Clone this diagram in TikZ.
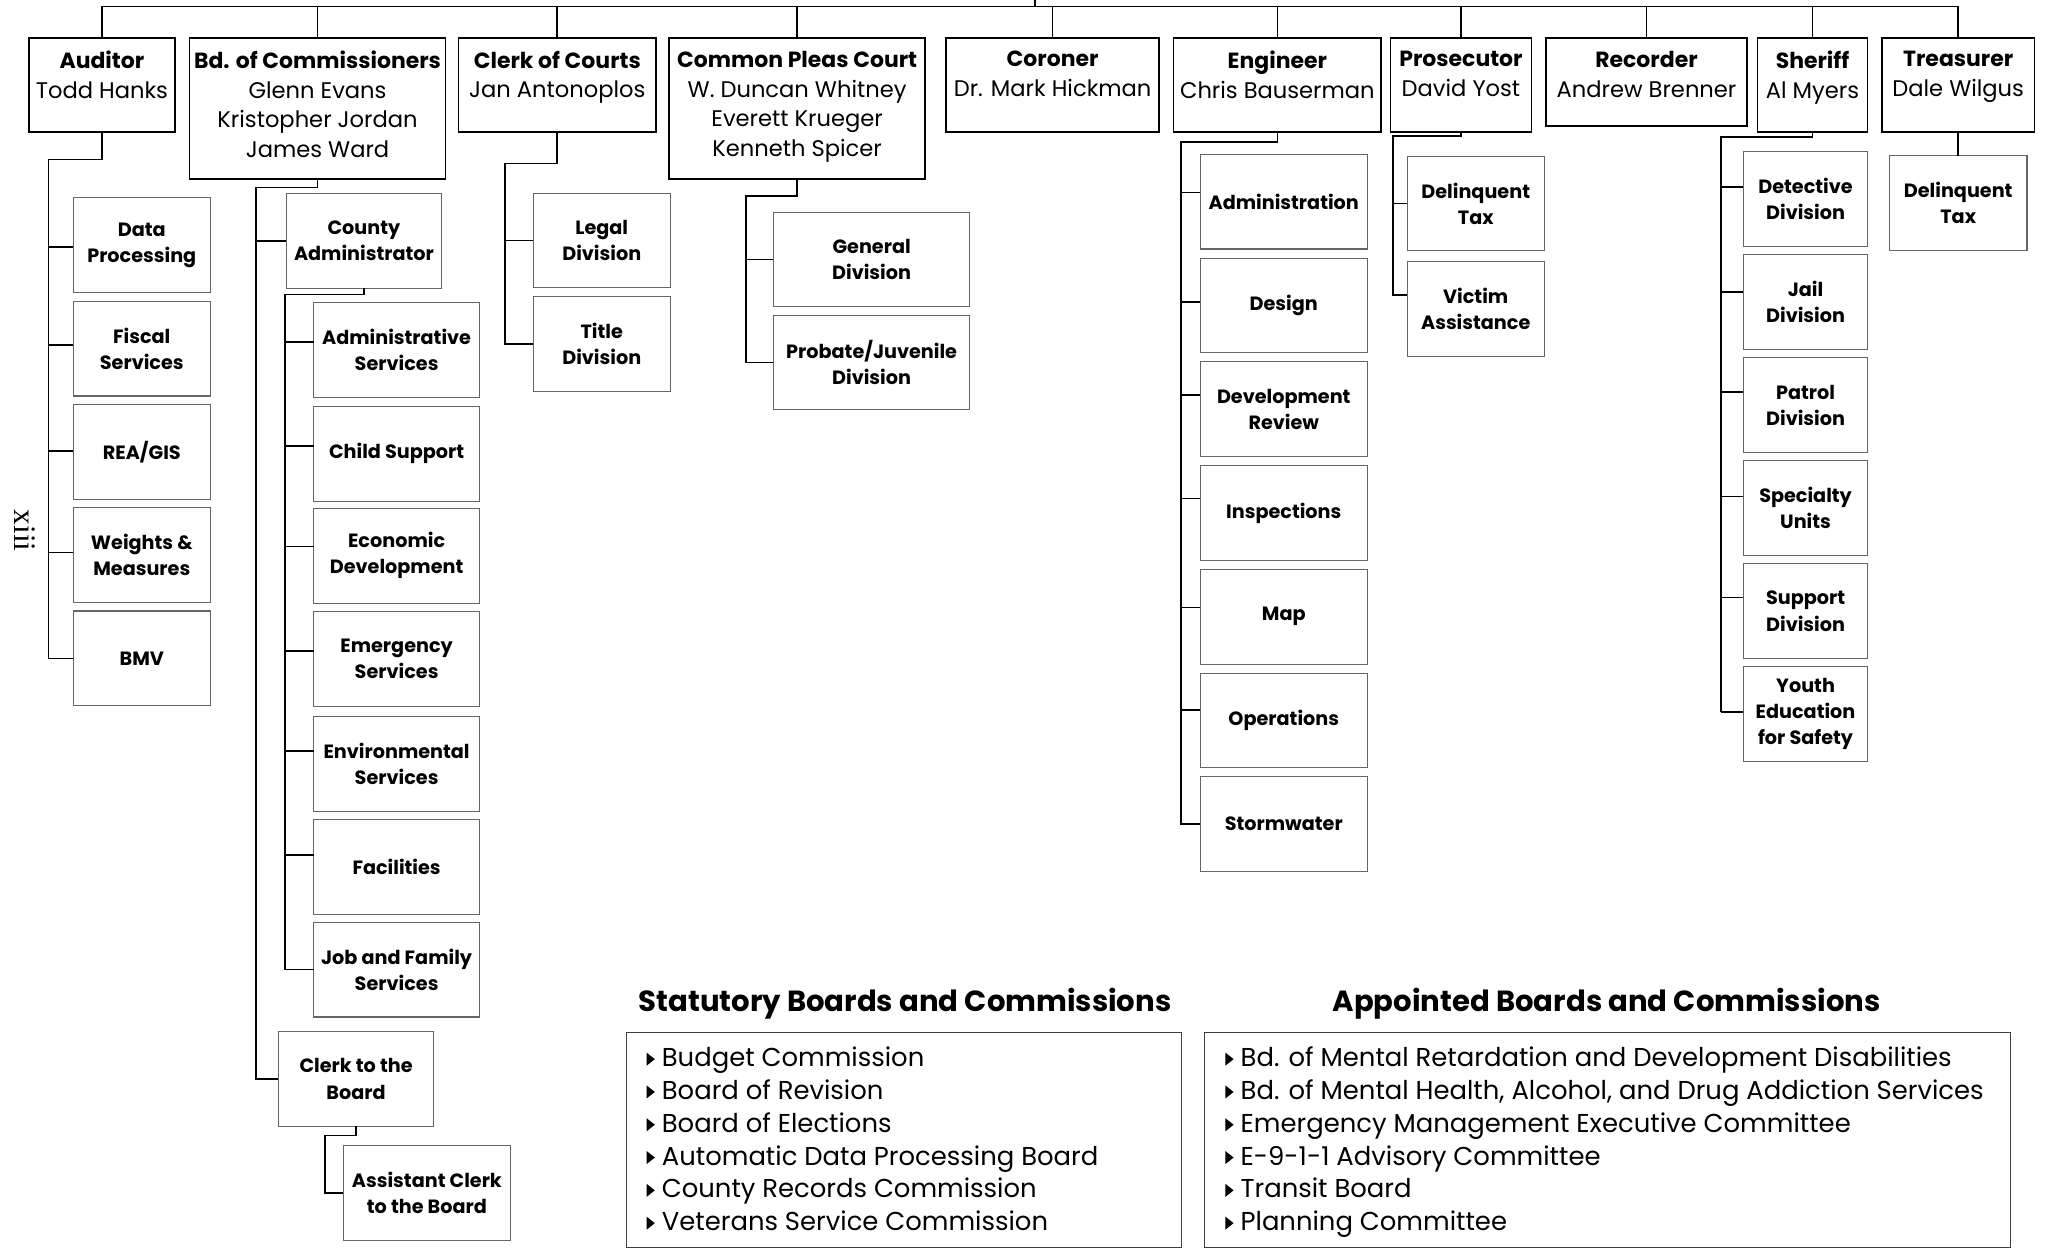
\documentclass[tikz,border=0pt]{standalone}
\usepackage{fontspec}
\setmainfont{Poppins}
\newfontfamily\serf{Liberation Serif}
\usetikzlibrary{calc}
\newcommand\ttlb[1]{{\bfseries\fontsize{16.8}{22.6}\selectfont #1}}
\tikzset{
  topbox/.style={draw=black, line width=1.2pt, inner sep=0pt, outer sep=0pt},
  subbox/.style={draw=black!60, line width=0.8pt, inner sep=0pt, outer sep=0pt,
     minimum height=72.5pt, align=center,
     font=\bfseries\fontsize{14.7}{20}\selectfont},
  conn/.style={line width=1.3pt, black},
  ttl/.style={anchor=north, inner sep=0pt, align=center, font=\fontsize{17.3}{22.6}\selectfont},
  listbox/.style={draw=black!75, line width=0.9pt, inner sep=0pt, outer sep=0pt},
  listitem/.style={anchor=base west, inner sep=0pt, font=\fontsize{19.8}{25}\selectfont},
  sechead/.style={anchor=base, inner sep=0pt, font=\bfseries\fontsize{22.3}{26}\selectfont},
}
\begin{document}
\begin{tikzpicture}[x=1pt,y=-1pt]
\useasboundingbox (0,0) rectangle (1568,956);
\fill[white] (0,0) rectangle (1568,956);

% ---- top level boxes
\node[topbox, minimum width=112pt, minimum height=72pt] (aud) at (78,65) {};
\node[topbox, minimum width=196pt, minimum height=108pt] (bdc) at (243,83) {};
\node[topbox, minimum width=151pt, minimum height=72pt] (coc) at (426.5,65) {};
\node[topbox, minimum width=196pt, minimum height=108pt] (cpc) at (610,83) {};
\node[topbox, minimum width=163pt, minimum height=72pt] (cor) at (805.5,65) {};
\node[topbox, minimum width=159pt, minimum height=72pt] (eng) at (977.5,65) {};
\node[topbox, minimum width=108pt, minimum height=72pt] (pro) at (1118,65) {};
\node[topbox, minimum width=154pt, minimum height=67.5pt] (rec) at (1260,62.75) {};
\node[topbox, minimum width=84pt, minimum height=72pt] (she) at (1387,65) {};
\node[topbox, minimum width=117pt, minimum height=72pt] (tre) at (1498.5,65) {};

\node[ttl] (audt) at (aud.north |- 0,39) {\ttlb{Auditor}\\Todd Hanks};
\node[ttl] (bdct) at (bdc.north |- 0,39) {\ttlb{Bd. of Commissioners}\\Glenn Evans\\Kristopher Jordan\\James Ward};
\node[ttl] (coct) at (coc.north |- 0,39) {\ttlb{Clerk of Courts}\\Jan Antonoplos};
\node[ttl] (cpct) at (cpc.north |- 0,39) {\ttlb{Common Pleas Court}\\W. Duncan Whitney\\Everett Krueger\\Kenneth Spicer};
\node[ttl] (cort) at (cor.north |- 0,39) {\ttlb{Coroner}\\Dr. Mark Hickman};
\node[ttl] (engt) at (eng.north |- 0,39) {\ttlb{Engineer}\\Chris Bauserman};
\node[ttl] (prot) at (pro.north |- 0,39) {\ttlb{Prosecutor}\\David Yost};
\node[ttl] (rect) at (rec.north |- 0,39) {\ttlb{Recorder}\\Andrew Brenner};
\node[ttl] (shet) at (she.north |- 0,39) {\ttlb{Sheriff}\\Al Myers};
\node[ttl] (tret) at (tre.north |- 0,39) {\ttlb{Treasurer}\\Dale Wilgus};

% ---- top trunk
\coordinate (trunk) at (792,5);
\draw[conn] (aud.north) -- (aud.north |- trunk) -- (tre.north |- trunk) -- (tre.north);
\draw[conn] (trunk) -- ++(0,-8);
\foreach \n in {bdc,coc,cpc,cor,eng,pro,rec,she}
  \draw[conn] (\n.north) -- (\n.north |- trunk);

% ---- Auditor
\foreach \n/\y/\t/\o in {dp/187.5/{Data\\Processing}/1.5, fs/266.8/{Fiscal\\Services}/-3,
   rea/346/{REA/GIS}/-1, wm/424.9/{Weights \&\\Measures}/-2, bmv/503.8/{BMV}/0}{
  \node[subbox, minimum width=105pt] (\n) at (108.5,\y) {\t};
  \draw[conn] ($(\n.west)+(-19,\o)$) -- ++(19,0);
}
\draw[conn] (aud.south) -- ++(0,21) -| ($(bmv.west)+(-19,0)$) -- (bmv.west);

% ---- Board of Commissioners
\node[subbox, minimum width=119pt] (ca) at (278.5,184.3) {County\\Administrator};
\node[subbox, minimum width=119pt] (ctb) at (272.5,825.7) {Clerk to the\\Board};
\node[subbox, minimum width=128pt] (act) at (326.7,912.7) {Assistant Clerk\\to the Board};
\draw[conn] (bdc.south) -- ++(0,6.5) -| ($(ctb.west)+(-17,0)$) -- (ctb.west);
\draw[conn] ($(ca.west)+(-23,0)$) -- (ca.west);
\draw[conn] (ctb.south) -- ++(0,7) -| ($(act.west)+(-14.2,0)$) -- (act.west);

\foreach \n/\y/\t/\o in {as/267.9/{Administrative\\Services}/-6, cs/347.2/{Child Support}/-6,
   ed/425.3/{Economic\\Development}/-7, es/504.1/{Emergency\\Services}/-6,
   env/584.5/{Environmental\\Services}/-10, fac/663.2/{Facilities}/-9,
   jfs/742/{Job and Family\\Services}/0}{
  \node[subbox, minimum width=127pt] (\n) at (303.5,\y) {\t};
  \draw[conn] ($(\n.west)+(-22,\o)$) -- ++(22,0);
}
\draw[conn] (ca.south) -- ++(0,4.8) -| ($(jfs.west)+(-22,0)$) -- (jfs.west);

% ---- Clerk of Courts
\node[subbox, minimum width=105pt] (legal) at (460.5,184) {Legal\\Division};
\node[subbox, minimum width=105pt] (title) at (460.5,263) {Title\\Division};
\draw[conn] (coc.south) -- ++(0,24) -| ($(title.west)+(-21.6,0)$) -- (title.west);
\draw[conn] ($(legal.west)+(-21.6,0)$) -- (legal.west);

% ---- Common Pleas Court
\node[subbox, minimum width=150.5pt] (gen) at (667,198.6) {General\\Division};
\node[subbox, minimum width=150.5pt] (prob) at (667,277.4) {Probate/Juvenile\\Division};
\draw[conn] (cpc.south) -- ++(0,13) -| ($(prob.west)+(-21,0)$) -- (prob.west);
\draw[conn] ($(gen.west)+(-21,0)$) -- (gen.west);

% ---- Engineer
\foreach \n/\y/\t/\o in {adm/154.3/{Administration}/-7, des/233.7/{Design}/-2.6,
   dr/313.1/{Development\\Review}/-11, ins/392.5/{Inspections}/-11,
   map/471.9/{Map}/-7, ops/551.3/{Operations}/-8, sw/630.7/{Stormwater}/0}{
  \node[subbox, minimum width=127.8pt] (\n) at (982.4,\y) {\t};
  \draw[conn] ($(\n.west)+(-15,\o)$) -- ++(15,0);
}
\draw[conn] (eng.south) -- ++(0,7.4) -| ($(sw.west)+(-15,0)$) -- (sw.west);

% ---- Prosecutor
\node[subbox, minimum width=104.6pt] (dt1) at (1129.3,155.8) {Delinquent\\Tax};
\node[subbox, minimum width=104.6pt] (va) at (1129.3,236.4) {Victim\\Assistance};
\draw[conn] (pro.south) -- ++(0,3) -| ($(va.west)+(-11,-10.7)$) -- ++(11,0);
\draw[conn] ($(dt1.west)+(-11,0)$) -- (dt1.west);

% ---- Sheriff
\foreach \n/\y/\t/\o in {det/152.5/{Detective\\Division}/-9.5, jail/231.3/{Jail\\Division}/-8,
   pat/310.1/{Patrol\\Division}/-10, spe/388.9/{Specialty\\Units}/-9,
   sup/467.7/{Support\\Division}/-10.5, yes/546.5/{Youth\\Education\\for Safety}/-1.5}{
  \node[subbox, minimum width=95.5pt] (\n) at (1381.7,\y) {\t};
  \draw[conn] ($(\n.west)+(-17,\o)$) -- ++(17,0);
}
\draw[conn] (she.south) -- ++(0,4) -| ($(yes.west)+(-17,-1.5)$);

% ---- Treasurer
\node[subbox, minimum width=105.3pt] (dt2) at (1498.5,155.4) {Delinquent\\Tax};
\draw[conn] (tre.south) -- (dt2.north);

% ---- page number
\node[rotate=-90, inner sep=0pt, font=\serf\fontsize{24}{24}\selectfont] (pg) at (18.7,406) {xiii};

% ---- Statutory boards
\node[sechead] (sh1) at (692.6,774) {Statutory Boards and Commissions};
\node[listbox, minimum width=425pt, minimum height=164.3pt] (lb1) at (691.8,872.35) {};
\foreach \t [count=\i from 0] in {Budget Commission, Board of Revision, Board of Elections,
   Automatic Data Processing Board, County Records Commission, Veterans Service Commission}{
  \node[listitem] (s\i) at (506.3,816.3+25.1*\i) {\t};
  \fill ($(s\i.base west)+(-11.5,-10.8)$) -- ++(0,10) -- ++(6.3,-5) -- cycle;
}

% ---- Appointed boards
\node[sechead] (sh2) at (1229.4,774) {Appointed Boards and Commissions};
\node[listbox, minimum width=616.4pt, minimum height=164.3pt] (lb2) at (1230.2,872.35) {};
\foreach \t [count=\i from 0] in {Bd. of Mental Retardation and Development Disabilities,
   {Bd. of Mental Health, Alcohol, and Drug Addiction Services},
   Emergency Management Executive Committee, E-9-1-1 Advisory Committee,
   Transit Board, Planning Committee}{
  \node[listitem] (a\i) at (949.2,816.3+25.1*\i) {\t};
  \fill ($(a\i.base west)+(-11.5,-10.8)$) -- ++(0,10) -- ++(6.3,-5) -- cycle;
}
\end{tikzpicture}
\end{document}
